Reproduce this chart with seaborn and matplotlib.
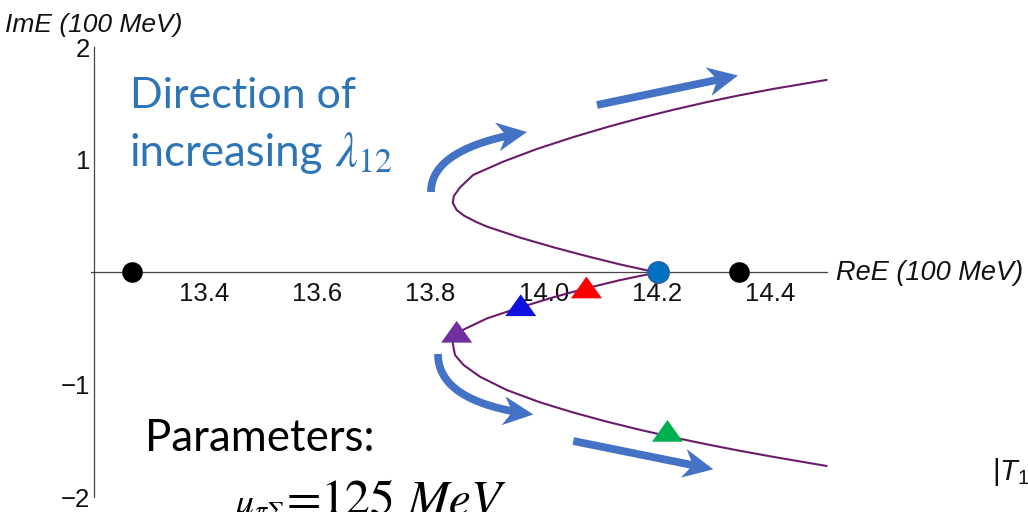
import numpy as np
import pandas as pd
import matplotlib
matplotlib.use("Agg")
import matplotlib.pyplot as plt
from matplotlib.lines import Line2D
from matplotlib.patches import Polygon
from matplotlib.transforms import IdentityTransform
import seaborn as sns

# Pole trajectory in the complex energy plane (units of 100 MeV)
re_upper = [14.499, 14.405, 14.346, 14.287, 14.228, 14.170, 14.111, 14.052,
            13.987, 13.928, 13.875, 13.852, 13.841, 13.839, 13.846, 13.859,
            13.880, 13.900, 13.958, 14.017, 14.075, 14.135, 14.199]
im_upper = [1.712, 1.632, 1.576, 1.514, 1.446, 1.373, 1.292, 1.204,
            1.097, 0.985, 0.867, 0.757, 0.680, 0.620, 0.555, 0.505,
            0.450, 0.407, 0.310, 0.224, 0.146, 0.071, 0.000]
re_lower = [14.134, 14.075, 14.017, 13.958, 13.900, 13.859, 13.843, 13.839,
            13.843, 13.858, 13.887, 13.934, 13.993, 14.052, 14.111, 14.170,
            14.228, 14.287, 14.346, 14.405, 14.499]
im_lower = [-0.068, -0.140, -0.220, -0.310, -0.407, -0.505, -0.570, -0.629,
            -0.733, -0.822, -0.926, -1.044, -1.154, -1.245, -1.326, -1.399,
            -1.465, -1.527, -1.585, -1.639, -1.720]

# Thresholds on the real axis and the branch point
thr_re = [13.2735, 14.3437]
thr_im = [0.0, 0.0]
branch_re = [14.2007]
branch_im = [0.0]

# Selected poles along the lower trajectory
pole_names = ["a", "b", "c", "d"]
pole_re = [14.075, 13.959, 13.846, 14.218]
pole_im = [-0.165, -0.323, -0.559, -1.440]
pole_colors = ["#FF0000", "#1010E0", "#7030A0", "#00B050"]

x_ticks = [13.4, 13.6, 13.8, 14.0, 14.2, 14.4]
x_labels = ["13.4", "13.6", "13.8", "14.0", "14.2", "14.4"]
y_ticks = [-2, -1, 1, 2]
y_labels = ["\u22122", "\u22121", "1", "2"]

W, H = 1028, 512

sns.set_theme(style="white")
plt.rcParams["font.family"] = ["Liberation Sans", "DejaVu Sans"]
plt.rcParams["mathtext.fontset"] = "custom"
plt.rcParams["mathtext.rm"] = "Liberation Sans"
plt.rcParams["mathtext.it"] = "Liberation Sans:italic"

fig = plt.figure(figsize=(W / 100, H / 100), dpi=100)
fig.patch.set_facecolor("white")
ax = fig.add_axes([0, 0, 1, 1])
ax.set_facecolor("none")
ax.set_xlim(13.04, 14.8543)
ax.set_ylim(-2.1289, 2.4222)

traj = pd.DataFrame({
    "ReE": re_upper + re_lower,
    "ImE": im_upper + im_lower,
})
sns.lineplot(data=traj, x="ReE", y="ImE", sort=False, estimator=None,
             color="#6B1B6B", linewidth=1.5, ax=ax, zorder=3)

sns.scatterplot(x=thr_re, y=thr_im, color="black", s=220, linewidth=0,
                ax=ax, zorder=5)
sns.scatterplot(x=branch_re, y=branch_im, color="#0070C0", s=240,
                edgecolor="#2A62A0", linewidth=1, ax=ax, zorder=5)

tri = [(0.0, 0.933), (-1.0, -0.467), (1.0, -0.467)]
poles = pd.DataFrame({"name": pole_names, "ReE": pole_re, "ImE": pole_im})
sns.scatterplot(data=poles, x="ReE", y="ImE", hue="name",
                palette=dict(zip(pole_names, pole_colors)), marker=tri,
                s=500, linewidth=0, legend=False, ax=ax, zorder=5)

ax.set_xlabel("")
ax.set_ylabel("")

# Axes through the plot, Mathematica style
axis_color = "#444444"
for side in ("top", "right"):
    ax.spines[side].set_visible(False)
ax.spines["left"].set_position(("data", 13.2064))
ax.spines["left"].set_bounds(-2, 2)
ax.spines["bottom"].set_position(("data", 0))
ax.spines["bottom"].set_bounds(13.2, 14.5)
for side in ("left", "bottom"):
    ax.spines[side].set_color(axis_color)
    ax.spines[side].set_linewidth(0.9)
    ax.spines[side].set_zorder(2)

ax.set_xticks(x_ticks, x_labels)
ax.set_xticks(np.arange(13.25, 14.5001, 0.05), minor=True)
ax.set_yticks(y_ticks, y_labels)
ax.set_yticks(np.arange(-2, 2.0001, 0.2), minor=True)
ax.tick_params(axis="both", which="major", direction="in", length=5,
               width=0.8, color=axis_color, labelsize=18.5, labelcolor="#111111")
ax.tick_params(axis="both", which="minor", direction="in", length=3,
               width=0.6, color=axis_color)
ax.tick_params(axis="x", which="major", pad=7)
ax.tick_params(axis="y", which="major", pad=3)
ax.grid(False)


def fx(px):
    return px / W


def fy(py):
    return 1 - py / H


fig.text(fx(5), fy(25), "ImE (100 MeV)", style="italic", fontsize=19,
         va="center", ha="left", color="#111111")
fig.text(fx(836), fy(272.5), "ReE (100 MeV)", style="italic", fontsize=19.5,
         va="center", ha="left", color="#111111")

text_blue = "#2E75B6"
fig.text(fx(130), fy(108), "Direction of", family="Lato", fontsize=31,
         color=text_blue, va="baseline", ha="left")
fig.text(fx(130), fy(166), "increasing", family="Lato", fontsize=31.5,
         color=text_blue, va="baseline", ha="left")
fig.text(fx(335), fy(166), r"$\lambda_{12}$", math_fontfamily="stix",
         fontsize=35, color=text_blue, va="baseline", ha="left")
fig.text(fx(145), fy(451), "Parameters:", family="Lato", fontsize=31.5,
         color="black", va="baseline", ha="left")

# Parameter value, set piece by piece for wide equation spacing
serif = "STIXGeneral"
fig.text(fx(233), fy(514), r"$\mu_{\pi\Sigma}$", math_fontfamily="stix",
         fontsize=27, color="black", va="baseline", ha="left")
fig.text(fx(287), fy(514), "=", family=serif, fontsize=36,
         color="black", va="baseline", ha="left")
fig.text(fx(320), fy(514), "125", family=serif, fontsize=36,
         color="black", va="baseline", ha="left")
fig.text(fx(408), fy(514), "MeV", family=serif, style="italic",
         fontsize=36, color="black", va="baseline", ha="left")

# Matrix-element label at the right edge
fig.text(fx(992), fy(480), r"$\mathrm{|}T_{11}$", math_fontfamily="custom",
         fontsize=21, color="#111111", va="baseline", ha="left")

# Thick arrows showing the direction of increasing coupling
arrow_color = "#4472C4"
HEAD_LEN, HEAD_HALF, NOTCH = 30.0, 14.5, 9.0


def draw_arrow(tail, tip, ctrl=None):
    tr = ax.transData
    p0 = tr.transform(tail)
    p2 = tr.transform(tip)
    p1 = tr.transform(ctrl) if ctrl is not None else 0.5 * (p0 + p2)
    t = np.linspace(0, 1, 300)[:, None]
    pts = (1 - t) ** 2 * p0 + 2 * (1 - t) * t * p1 + t ** 2 * p2
    d = p2 - p1
    d = d / np.hypot(*d)
    nrm = np.array([-d[1], d[0]])
    cut = HEAD_LEN - NOTCH
    keep = np.hypot(*(pts - p2).T) >= cut - 1
    shaft = pts[keep]
    fig.add_artist(Line2D(shaft[:, 0], shaft[:, 1], lw=5.6, color=arrow_color,
                          solid_capstyle="butt", transform=IdentityTransform(),
                          zorder=6))
    back = p2 - d * HEAD_LEN
    head = [p2, back + nrm * HEAD_HALF, p2 - d * cut, back - nrm * HEAD_HALF]
    fig.add_artist(Polygon(head, closed=True, facecolor=arrow_color,
                           edgecolor="none", transform=IdentityTransform(),
                           zorder=6))


draw_arrow((13.8006, 0.7156), (13.9701, 1.2489), ctrl=(13.8006, 1.1067))
draw_arrow((14.0936, 1.4889), (14.3425, 1.7511))
draw_arrow((13.8130, -0.7244), (13.9812, -1.2622), ctrl=(13.8130, -1.1547))
draw_arrow((14.0518, -1.4978), (14.2989, -1.7493))

fig.savefig("out.png", dpi=100)
